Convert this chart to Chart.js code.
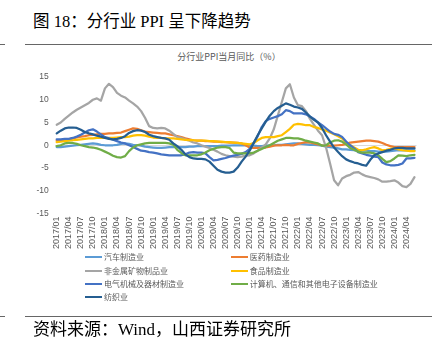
<!DOCTYPE html>
<html>
<head>
<meta charset="utf-8">
<script src="https://cdn.jsdelivr.net/npm/chart.js"></script>
<style>
  html, body { margin: 0; padding: 0; background: #fff; }
  body { width: 445px; height: 346px; position: relative; overflow: hidden; }
  .abs { position: absolute; }
  #title { left: 33px; top: 12px; font-family: "Liberation Serif", "Noto Sans CJK SC", serif; font-size: 16.5px; color: #000; white-space: nowrap; line-height: 20px; }
  #source { left: 33px; top: 320px; font-family: "Liberation Serif", "Noto Sans CJK SC", serif; font-size: 17px; color: #000; white-space: nowrap; line-height: 20px; }
  .rule { height: 1px; background: #666; }
  #ctitle { left: 130px; width: 198px; top: 51px; text-align: center; font-family: "Noto Sans CJK SC", sans-serif; font-size: 9px; color: #595959; line-height: 12px; white-space: nowrap; }
  #chartwrap { left: 0; top: 60px; width: 445px; height: 200px; }
  .leg { font-family: "Noto Sans CJK SC", sans-serif; font-size: 8px; color: #595959; white-space: nowrap; line-height: 10px; display: flex; align-items: center; }
  .leg span.ln { display: inline-block; width: 17px; height: 2.25px; margin-right: 2px; }
</style>
</head>
<body>
<div id="title" class="abs">图 18：分行业 PPI 呈下降趋势</div>
<div class="abs rule" style="left:0;top:44px;width:5px;"></div>
<div class="abs rule" style="left:25px;top:44px;width:407px;"></div>
<div id="ctitle" class="abs">分行业PPI当月同比（%）</div>
<div id="chartwrap" class="abs"><canvas id="c" width="445" height="200"></canvas></div>
<div id="legend"></div>
<div class="abs rule" style="left:0;top:316px;width:5px;"></div>
<div class="abs rule" style="left:25px;top:316px;width:407px;"></div>
<div id="source" class="abs">资料来源：Wind，山西证券研究所</div>

<script>
// ---- categories (2017/01 .. 2024/06) ----
const years = [2017, 2018, 2019, 2020, 2021, 2022, 2023, 2024];
const categories = [];
years.forEach(y => {
  const last = (y === 2024) ? 6 : 12;
  for (let m = 1; m <= last; m++) categories.push(y + '/' + (m < 10 ? '0' + m : m));
});

// ---- y-axis ticks ----
const yTicks = [-15, -10, -5, 0, 5, 10, 15];

// ---- series names ----
const seriesNames = ['汽车制造业', '医药制造业', '非金属矿物制品业', '食品制造业', '电气机械及器材制造业', '计算机、通信和其他电子设备制造业', '纺织业'];
const seriesColors = ['#5B9BD5', '#ED7D31', '#A5A5A5', '#FFC000', '#4472C4', '#70AD47', '#255E91'];

// ---- series values (%, monthly) ----
const auto = [
  -0.4,-0.4,-0.3,-0.2,-0.1,0.0,0.1,0.2,0.3,0.4,0.3,0.1,
  0.0,0.0,0.0,0.1,0.3,0.4,0.3,0.1,0.0,-0.1,-0.3,-0.4,
  -0.5,-0.6,-0.6,-0.5,-0.4,-0.4,-0.4,-0.4,-0.4,-0.3,-0.3,-0.2,
  -0.2,-0.2,-0.2,-0.2,-0.2,-0.1,-0.1,-0.1,0.0,0.0,0.0,0.0,
  0.0,-0.1,-0.2,-0.2,-0.1,0.0,0.0,0.1,0.1,0.2,0.3,0.4,
  0.4,0.3,0.2,0.1,0.1,0.0,-0.1,-0.3,-0.4,-0.5,-0.7,-0.9,
  -0.9,-1.0,-1.1,-1.1,-1.2,-1.2,-1.3,-1.3,-1.4,-1.4,-1.4,-1.3,
  -1.2,-1.1,-1.1,-1.1,-1.1,-1.1
];
const pharma = [
  1.0,1.1,1.2,1.3,1.5,1.7,1.9,2.0,2.2,2.3,2.4,2.5,
  2.5,2.6,2.6,2.7,2.8,3.1,3.4,3.7,3.6,3.3,3.0,2.9,
  2.8,2.7,2.6,2.6,2.4,2.2,2.0,1.8,1.5,1.3,1.1,1.0,
  1.0,0.9,0.9,0.8,0.8,0.7,0.7,0.6,0.6,0.5,0.4,0.0,
  -0.5,-0.6,-0.6,-0.6,-0.5,-0.3,-0.1,0.0,0.0,0.1,0.0,0.0,
  0.3,0.5,0.7,0.6,0.4,0.2,0.0,-0.1,-0.1,-0.1,0.0,0.1,
  0.3,0.6,0.7,0.8,0.9,1.0,1.0,0.9,0.8,0.5,0.1,-0.2,
  -0.4,-0.4,-0.4,-0.4,-0.4,-0.4
];
const nonMetal = [
  4.5,5.0,5.8,6.5,7.2,7.8,8.3,8.8,9.3,10.0,10.3,9.8,
  12.5,13.5,12.8,11.5,10.9,10.5,9.8,9.2,8.5,7.5,6.0,4.2,
  3.8,3.7,3.8,3.7,3.2,2.5,1.8,1.6,1.3,1.0,0.6,0.4,
  0.0,-0.3,-0.6,-1.0,-1.4,-1.9,-2.2,-2.4,-2.5,-2.6,-2.5,-2.3,
  -2.2,-1.8,-1.2,-0.5,0.2,1.5,3.5,6.5,9.5,12.5,13.4,10.5,
  8.8,8.6,7.5,5.8,4.5,3.2,2.2,-0.5,-4.0,-7.7,-8.8,-7.3,
  -6.8,-6.5,-6.0,-5.9,-6.4,-6.8,-7.0,-7.2,-7.5,-8.0,-8.0,-7.9,
  -7.7,-8.2,-9.0,-9.2,-8.5,-7.0
];
const food = [
  0.7,0.8,0.9,1.0,1.1,1.2,1.3,1.4,1.5,1.5,1.6,1.6,
  1.6,1.6,1.6,1.7,1.8,1.8,1.9,2.1,2.2,2.2,2.1,1.9,
  1.7,1.6,1.6,1.5,1.5,1.5,1.4,1.3,1.2,1.1,1.1,1.0,
  1.0,1.0,0.9,0.9,0.8,0.8,0.7,0.7,0.6,0.5,0.4,0.3,
  0.2,0.5,1.1,1.6,1.8,1.8,1.8,2.0,2.2,2.9,3.6,4.5,
  4.7,4.6,4.4,4.4,4.0,3.8,3.5,3.2,2.8,2.4,2.0,1.5,
  0.6,0.0,-0.5,-1.0,-1.1,-0.9,-0.6,-0.4,-0.7,-1.1,-1.0,-0.8,
  -0.7,-0.9,-1.1,-1.2,-1.3,-1.3
];
const electrical = [
  1.3,1.3,1.4,1.4,1.6,1.9,2.3,2.8,3.3,3.5,3.0,2.4,
  1.8,1.5,1.2,0.9,0.6,0.4,0.0,-0.4,-0.8,-1.2,-1.3,-1.5,
  -1.6,-1.8,-2.0,-2.1,-2.2,-2.2,-2.2,-2.2,-2.0,-1.6,-1.5,-1.6,
  -1.6,-1.8,-2.6,-3.3,-3.2,-3.0,-2.8,-2.5,-2.3,-2.1,-1.9,-1.5,
  -0.8,0.5,2.0,4.0,5.3,5.8,6.1,6.4,6.8,7.7,7.5,7.0,
  7.0,7.0,6.8,6.3,5.8,5.0,4.4,3.7,3.0,2.5,2.3,1.8,
  0.8,0.0,-0.7,-1.5,-1.8,-2.1,-2.3,-2.5,-2.6,-3.8,-4.2,-4.4,
  -4.4,-4.3,-4.0,-2.9,-2.9,-2.8
];
const electronics = [
  -0.2,0.0,0.4,0.5,0.5,0.3,0.0,-0.2,-0.4,-0.5,-0.7,-1.0,
  -1.4,-1.8,-2.3,-2.6,-2.7,-2.4,-1.3,-0.5,0.0,0.2,0.4,0.5,
  0.5,0.5,0.5,0.5,0.4,0.1,-1.0,-1.7,-2.2,-2.2,-2.2,-2.2,
  -2.0,-1.6,-1.1,-0.8,-0.5,-0.4,-0.4,-0.6,-1.6,-1.8,-1.8,-1.8,
  -1.8,-1.6,-1.2,-0.8,-0.4,0.0,0.5,1.0,1.3,1.6,1.6,1.5,
  1.5,1.3,1.0,0.8,0.6,0.4,-0.1,0.0,0.6,1.0,1.1,0.8,
  0.2,-0.6,-1.0,-1.4,-1.6,-1.6,-1.6,-1.8,-2.2,-3.0,-3.7,-3.5,
  -2.9,-2.2,-2.3,-2.4,-2.2,-2.1
];
const textile = [
  2.6,3.2,3.7,3.9,3.9,3.8,3.4,2.9,2.6,2.4,2.1,1.9,
  1.6,1.4,1.3,1.4,1.6,2.0,2.7,3.1,3.3,3.2,2.9,2.3,
  2.0,1.8,1.6,1.5,1.2,0.4,-0.2,-1.0,-2.0,-2.6,-2.9,-3.0,
  -3.0,-3.1,-3.6,-4.5,-5.4,-5.8,-6.0,-6.0,-5.8,-4.9,-3.6,-2.5,
  -1.2,0.5,2.2,3.7,5.2,6.5,7.5,8.2,8.7,9.2,8.9,8.5,
  8.3,8.0,7.2,6.3,5.6,5.0,3.8,2.2,0.8,-0.5,-1.5,-2.4,
  -3.1,-3.5,-3.8,-4.0,-4.3,-4.5,-3.2,-2.2,-1.8,-1.5,-1.2,-1.0,
  -0.7,-0.6,-0.6,-0.7,-0.7,-0.7
];

const seriesData = [auto, pharma, nonMetal, food, electrical, electronics, textile];

const datasets = seriesNames.map((name, i) => ({
  label: name,
  data: seriesData[i],
  borderColor: seriesColors[i],
  backgroundColor: seriesColors[i],
  borderWidth: 2.25,
  pointRadius: 0,
  pointHoverRadius: 0,
  tension: 0,
  fill: false,
  borderJoinStyle: 'round',
  borderCapStyle: 'round',
  order: seriesNames.length - 1 - i
}));

new Chart(document.getElementById('c'), {
  type: 'line',
  data: { labels: categories, datasets: datasets },
  options: {
    responsive: false,
    animation: false,
    devicePixelRatio: 1,
    layout: { padding: { top: 17, bottom: 0, left: 0, right: 28.5 } },
    plugins: { legend: { display: false }, tooltip: { enabled: false }, title: { display: false } },
    scales: {
      x: {
        type: 'category',
        offset: true,
        grid: { display: false, drawTicks: false },
        border: { display: false },
        afterFit: s => { s.height = 46.5; },
        ticks: {
          autoSkip: false,
          maxRotation: 90,
          minRotation: 90,
          padding: 3,
          color: '#595959',
          font: { family: 'Liberation Sans', size: 9 },
          callback: function (v, idx) { return idx % 3 === 0 ? categories[idx] : ''; }
        }
      },
      y: {
        min: yTicks[0],
        max: yTicks[yTicks.length - 1],
        afterFit: s => { s.width = 54.7; },
        afterBuildTicks: s => { s.ticks = yTicks.map(v => ({ value: v })); },
        grid: {
          drawTicks: false,
          color: c => (c.tick && c.tick.value === 0) ? '#D9D9D9' : 'rgba(0,0,0,0)',
          lineWidth: 1
        },
        border: { display: false },
        ticks: {
          padding: 6,
          color: '#595959',
          font: { family: 'Liberation Sans', size: 8.5 }
        }
      }
    }
  }
});

// ---- HTML legend (two columns, as in the reference) ----
const legendPos = [
  [85, 257.3], [230.7, 257.3],
  [85, 270.7], [230.7, 270.7],
  [85, 284], [230.7, 284],
  [85, 296.7]
];
const legendOrder = [0, 1, 2, 3, 4, 5, 6];
const legEl = document.getElementById('legend');
legendOrder.forEach((si, k) => {
  const d = document.createElement('div');
  d.className = 'abs leg';
  d.style.left = legendPos[k][0] + 'px';
  d.style.top = (legendPos[k][1] - 5) + 'px';
  d.innerHTML = '<span class="ln" style="background:' + seriesColors[si] + '"></span>' + seriesNames[si];
  legEl.appendChild(d);
});
</script>
</body>
</html>
